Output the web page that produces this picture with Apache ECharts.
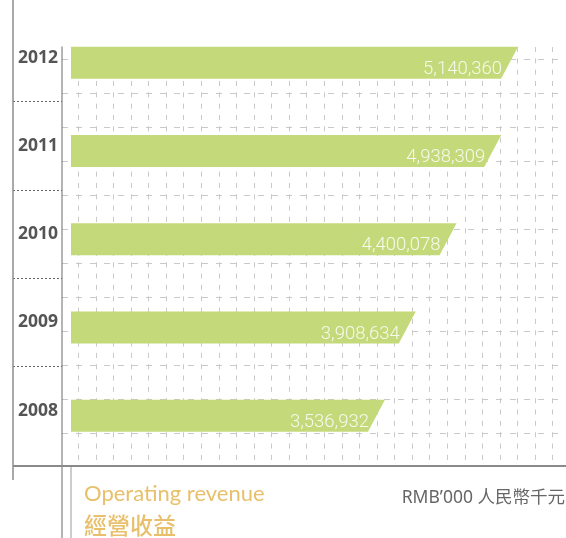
<!DOCTYPE html>
<html>
<head>
<meta charset="utf-8">
<script src="https://cdn.jsdelivr.net/npm/echarts@6/dist/echarts.min.js"></script>
<style>
	html, body { margin: 0; padding: 0; background: #fff; }
	#chart { width: 566px; height: 538px; }
</style>
</head>
<body>
<div id="chart"></div>
<script>
const years = ['2008', '2009', '2010', '2011', '2012'],
	revenue = [3536932, 3908634, 4400078, 4938309, 5140360],
	titleEn = 'Operating revenue',
	titleZh = '經營收益',
	unitText = 'RMB\u2019000 人民幣千元';

const gridColor = '#c9c9c9',
	barColor = '#c4da7a',
	gold = '#e8c06c';

// bars end in a slant: top edge is the value, bottom edge is pulled back
const renderBar = (params, api) => {
	const end = api.coord([api.value(0), api.value(1)]),
		h = 32,
		slant = 17,
		x0 = params.coordSys.x,
		yTop = end[1] - h / 2,
		yBot = end[1] + h / 2;
	return {
		type: 'group',
		children: [
			{
				type: 'polygon',
				shape: { points: [[x0, yTop], [end[0], yTop], [end[0] - slant, yBot], [x0, yBot]] },
				style: { fill: barColor },
			},
			{
				type: 'text',
				style: {
					text: api.value(0).toLocaleString('en-US'),
					x: end[0] - slant + 1,
					y: end[1] + 6.5,
					align: 'right',
					verticalAlign: 'middle',
					fill: '#f6f9ec',
					font: '300 18.5px Roboto, "Noto Sans", sans-serif',
				},
			},
		],
	};
};

const dashed = (type) => ({ show: true, lineStyle: { color: gridColor, width: 1, type } }),
	bare = { axisLine: { show: false }, axisTick: { show: false }, axisLabel: { show: false } },
	vline = (x, y1, y2, color, width) => ({
		type: 'line', z: 10, silent: true,
		shape: { x1: x, y1, x2: x, y2 },
		style: { stroke: color, lineWidth: width },
	}),
	label = (text, x, y, font, fill, align = 'left') => ({
		type: 'text', z: 10, silent: true,
		style: { text, x, y, font, fill, align, verticalAlign: 'middle' },
	});

const option = {
	animation: false,
	backgroundColor: '#fff',
	grid: [
		// year labels + dotted separators
		{ left: 13, width: 49, top: 13.4, height: 441.25 },
		// bars
		{ left: 71, right: 0, top: 18.7, height: 441.25 },
		// horizontal dashed grid
		{ left: 62, right: 0, top: 25, height: 442 },
		// vertical dashed grid
		{ left: 78.3, width: 474.4, top: 47, height: 419 },
	],
	xAxis: [
		{ gridIndex: 0, type: 'value', show: false },
		{ gridIndex: 1, type: 'value', show: false, min: -244000, max: 5718000 },
		{ gridIndex: 2, type: 'value', show: false },
		{
			gridIndex: 3, type: 'value', min: 0, max: 27, interval: 1,
			...bare,
			splitLine: dashed([5, 6.33]),
		},
	],
	yAxis: [
		{
			gridIndex: 0, type: 'category', data: years,
			axisLine: { show: false },
			axisTick: { show: false },
			axisLabel: {
				inside: true, margin: 5,
				color: '#555', fontSize: 17.5, fontWeight: 'bold',
				fontFamily: '"Open Sans", sans-serif',
			},
			splitLine: {
				show: true, showMinLine: false, showMaxLine: false,
				lineStyle: { color: '#666', type: [2, 2], width: 1 },
			},
		},
		{ gridIndex: 1, type: 'category', data: years, show: false },
		{
			gridIndex: 2, type: 'value', min: 0, max: 13, interval: 1,
			...bare,
			splitLine: { ...dashed([6, 8]), showMinLine: false, showMaxLine: false },
		},
		{ gridIndex: 3, type: 'value', show: false },
	],
	series: [
		{
			type: 'custom',
			xAxisIndex: 1,
			yAxisIndex: 1,
			renderItem: renderBar,
			data: years.map((y, i) => [revenue[i], i]),
		},
	],
	graphic: [
		vline(13, 0, 480, '#8c8c8c', 1.5),
		vline(62, 46.5, 538, '#6a6a6a', 1),
		vline(71, 466, 538, '#9a9a9a', 1),
		{
			type: 'line', z: 10, silent: true,
			shape: { x1: 13, y1: 466, x2: 566, y2: 466 },
			style: { stroke: '#8a8a8a', lineWidth: 2 },
		},
		label(titleEn, 84, 493.5, '22px Lato, "Noto Sans", sans-serif', gold),
		label(titleZh, 84, 525, '500 23px "Noto Sans CJK TC", sans-serif', gold),
		label(unitText, 565, 498, '17.5px "Noto Sans", "Noto Sans CJK TC", sans-serif', '#666', 'right'),
	],
};

const chart = echarts.init(document.getElementById('chart'), null, { renderer: 'canvas' });
chart.setOption(option);
</script>
</body>
</html>
